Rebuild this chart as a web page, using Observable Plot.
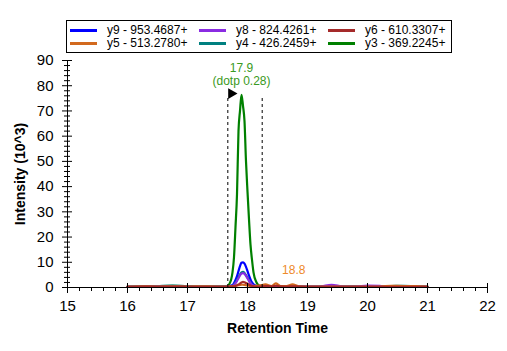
<!DOCTYPE html>
<html>
<head>
<meta charset="utf-8">
<script src="https://cdn.jsdelivr.net/npm/d3@7"></script>
<script src="https://cdn.jsdelivr.net/npm/@observablehq/plot@0.6"></script>
<style>
  html, body { margin: 0; padding: 0; background: #fff; }
  #wrap { position: relative; width: 507px; height: 351px; font-family: "Liberation Sans", Arial, sans-serif; }
  #legend { position: absolute; left: 66px; top: 20px; width: 384px; height: 31px; border: 1px solid #000; background: #fff; font-size: 12px; z-index: 2; }
  .item { position: absolute; height: 13px; line-height: 13px; white-space: nowrap; }
  .sw { position: absolute; left: 0; top: 5px; width: 27px; height: 3px; }
  .lab { position: absolute; left: 37px; top: 0; color: #000; }
</style>
</head>
<body>
<div id="wrap"><div id="legend"></div></div>
<script>
// Retention times (min)
const times = [16.0,16.25,16.5,16.75,17.0,17.25,17.5,17.6,17.65,17.7,17.75,17.775,17.8,17.825,17.85,17.875,17.9,17.925,17.95,17.975,18.0,18.025,18.05,18.075,18.1,18.15,18.2,18.3,18.4,18.47,18.55,18.65,18.75,18.85,19.0,19.2,19.4,19.6,19.8,20.0,20.2,20.4,20.6,20.8,21.0];

// Intensities (10^3)
const y3 = [0.3,0.4,0.5,0.7,0.5,0.4,0.4,0.4,0.5,1.5,6,12,24,37,62,70,76.4,72,66,50,38,27,17,11,6,2,0.7,0.4,0.3,0.3,0.3,0.3,0.3,0.3,0.3,0.3,0.3,0.3,0.3,0.3,0.3,0.3,0.3,0.3,0.3];
const y9 = [0.3,0.3,0.4,0.4,0.3,0.3,0.3,0.3,0.4,0.6,1,1.8,3,4.5,6.5,8.5,9.8,10,9.5,8.2,6.5,4.8,3.2,2,1.3,0.6,0.4,0.3,0.3,0.3,0.3,0.3,0.3,0.3,0.3,0.3,0.4,0.3,0.3,0.3,0.3,0.3,0.3,0.3,0.3];
const y8 = [0.3,0.3,0.4,0.3,0.3,0.3,0.3,0.3,0.3,0.4,0.6,1,1.7,2.6,3.7,4.8,5.5,5.7,5.4,4.6,3.6,2.6,1.7,1.1,0.7,0.4,0.3,0.4,0.3,0.4,0.3,0.3,0.3,0.3,0.4,0.4,1.1,0.4,0.4,0.8,0.7,0.4,0.4,0.3,0.3];
const y4 = [0.4,0.4,0.6,0.8,0.5,0.4,0.4,0.4,0.4,0.5,0.7,1.1,1.9,2.9,4.1,5.2,6,6.2,5.8,4.9,3.9,2.8,1.8,1.1,0.7,0.4,0.3,0.3,0.3,0.3,0.4,0.3,0.3,0.3,0.4,0.4,0.5,0.4,0.5,0.4,0.5,0.6,0.7,0.5,0.4];
const y5 = [0.4,0.5,0.4,0.5,0.4,0.5,0.4,0.4,0.4,0.5,0.5,0.6,0.7,0.8,0.9,1,1.1,1.1,1,0.9,0.8,0.7,0.6,0.6,0.6,0.7,0.8,1.2,0.6,1.6,0.6,0.6,1.2,0.5,0.4,0.4,0.4,0.4,0.4,0.4,0.4,0.7,0.6,0.6,0.4];
const y6 = [0.3,0.4,0.3,0.4,0.3,0.3,0.3,0.3,0.3,0.4,0.5,0.5,0.6,0.9,1.2,1.6,2,2.2,2.1,1.8,1.5,1.1,0.8,0.6,0.5,0.4,0.4,0.6,0.5,0.7,0.5,0.4,0.5,0.4,0.3,0.3,0.3,0.3,0.3,0.3,0.3,0.3,0.3,0.3,0.3];

const legendNames = ["y9 - 953.4687+","y8 - 824.4261+","y6 - 610.3307+","y5 - 513.2780+","y4 - 426.2459+","y3 - 369.2245+"];
const legendColors = ["#0000ff","#8a2be2","#a52a2a","#d2691e","#008080","#008000"];

// Ticks
const xMajor = [15,16,17,18,19,20,21,22];
const yMajor = [0,10,20,30,40,50,60,70,80,90];
const xMinor = d3.range(15, 22.001, 0.2).filter(v => Math.abs(v - Math.round(v)) > 0.01);
const yMinor = d3.range(0, 90.001, 2).filter(v => v % 10 !== 0);

// Integration boundaries and annotations
const bounds = [17.672, 18.245];
const boundTop = 76;
const flag = [{t: 17.73, v: 76.9}];
const flagStem = [{t1: 17.73, t2: 17.79, v: 76.9}];
const peakLabel = [{t: 17.9, v: 76.4, time: "17.9", dotp: "(dotp 0.28)"}];
const minorLabel = [{t: 18.77, v: 1.2, text: "18.8"}];

const seriesData = {y9, y8, y6, y5, y4, y3};
const colorOf = {y9: "#0000ff", y8: "#8a2be2", y6: "#a52a2a", y5: "#d2691e", y4: "#008080", y3: "#008000"};
const drawOrder = ["y3","y9","y4","y8","y5","y6"];

function rows(key) { return times.map((t, i) => ({t, v: seriesData[key][i]})); }

const lines = drawOrder.map(k => Plot.line(rows(k), {x: "t", y: "v", stroke: colorOf[k], strokeWidth: 2.2, curve: "monotone-x"}));

const chart = Plot.plot({
  width: 507,
  height: 351,
  marginLeft: 67,
  marginRight: 20,
  marginTop: 60,
  marginBottom: 64,
  style: {fontFamily: "'Liberation Sans', Arial, sans-serif", background: "transparent", overflow: "visible"},
  x: {domain: [15, 22]},
  y: {domain: [0, 90]},
  marks: [
    ...lines,
    Plot.ruleX(bounds, {y1: 0, y2: boundTop, stroke: "#000", strokeWidth: 1, strokeDasharray: "3,3"}),
    Plot.ruleY(flagStem, {x1: "t1", x2: "t2", y: "v", stroke: "#000", strokeWidth: 1.5}),
    Plot.dot(flag, {x: "t", y: "v", symbol: "triangle", rotate: 90, r: 4, fill: "#000", stroke: "none"}),
    Plot.text(peakLabel, {x: "t", y: "v", text: "time", dy: -27, fill: "#3a9a22", fontSize: 12}),
    Plot.text(peakLabel, {x: "t", y: "v", text: "dotp", dy: -14, fill: "#3a9a22", fontSize: 12}),
    Plot.text(minorLabel, {x: "t", y: "v", text: "text", dy: -14, fill: "#ee8a2a", fontSize: 12}),
    Plot.ruleY([0], {stroke: "#000", strokeWidth: 1}),
    Plot.ruleX([15], {stroke: "#000", strokeWidth: 1}),
    Plot.axisX(xMajor, {tickSize: 0, tickPadding: 13, fontSize: 15, label: null}),
    Plot.axisX(xMajor, {tickSize: 10, dy: -4, text: null, label: null}),
    Plot.axisX(xMinor, {tickSize: 4, text: null, label: null}),
    Plot.axisY(yMajor, {tickSize: 0, tickPadding: 14, fontSize: 15, label: null}),
    Plot.axisY(yMajor, {tickSize: 10, dx: 5, text: null, label: null}),
    Plot.axisY(yMinor, {tickSize: 6, dx: 3, text: null, label: null}),
    Plot.text(["Retention Time"], {frameAnchor: "bottom", dy: 45, fontSize: 14, fontWeight: "bold", fill: "#000"}),
    Plot.text(["Intensity (10^3)"], {frameAnchor: "left", dx: -47, rotate: -90, textAnchor: "middle", fontSize: 14, fontWeight: "bold", fill: "#000"})
  ]
});

const wrap = document.getElementById("wrap");
chart.style.position = "absolute";
chart.style.left = "0px";
chart.style.top = "0px";
wrap.appendChild(chart);

const legend = document.getElementById("legend");
const colX = [3, 132, 261];
legendNames.forEach((name, i) => {
  const item = document.createElement("div");
  item.className = "item";
  item.style.left = colX[i % 3] + "px";
  item.style.top = (i < 3 ? 3 : 16) + "px";
  const sw = document.createElement("div");
  sw.className = "sw";
  sw.style.background = legendColors[i];
  const lab = document.createElement("div");
  lab.className = "lab";
  lab.textContent = name;
  item.appendChild(sw);
  item.appendChild(lab);
  legend.appendChild(item);
});
</script>
</body>
</html>
